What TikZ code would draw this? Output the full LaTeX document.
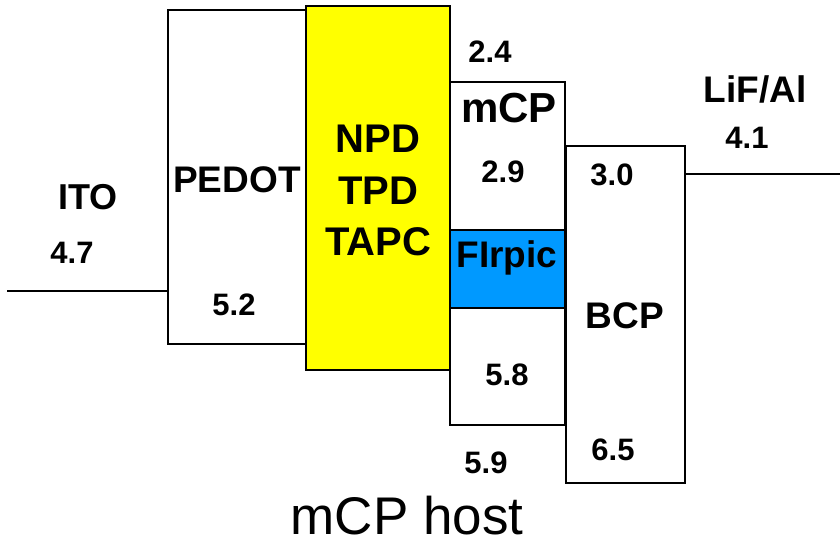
\documentclass[tikz,border=0pt]{standalone}
\usepackage{fontspec}
\setmainfont{Liberation Sans}
\definecolor{lay}{RGB}{255,255,0}
\definecolor{dopant}{RGB}{0,153,255}
\begin{document}
\begin{tikzpicture}[x=1pt,y=-1pt,
  layer/.style={draw=black,line width=1.6pt,anchor=north west,inner sep=0pt,outer sep=0pt},
  lbl/.style={anchor=base,inner sep=0pt,font=\bfseries\fontsize{36}{40}\selectfont},
  num/.style={anchor=base,inner sep=0pt,font=\bfseries\fontsize{31}{34}\selectfont},
  lvl/.style={line width=1.6pt}]
\useasboundingbox (0,0) rectangle (840,547);
% boxes
\node[layer,minimum width=138pt,minimum height=334pt] (pedot) at (168,10) {};
\node[layer,fill=lay,minimum width=144pt,minimum height=364pt] (htl) at (306,6) {};
\node[layer,minimum width=115pt,minimum height=343pt] (mcp) at (450,82) {};
\node[layer,fill=dopant,minimum width=115pt,minimum height=78pt] (firpic) at (450,230) {};
\node[layer,minimum width=119pt,minimum height=337pt] (bcp) at (566,146) {};
% electrode levels
\coordinate (itoend) at (7,291);
\coordinate (lifend) at (840,174);
\draw[lvl] (itoend) -- (itoend -| pedot.west);
\draw[lvl] (bcp.east |- lifend) -- (lifend);
% labels
\node[lbl] (tito) at (88,209) {ITO};
\node[num] (n47) at (72,263) {4.7};
\node[lbl,font=\bfseries\fontsize{37}{41}\selectfont] (tpedot) at (237,192) {PEDOT};
\node[num] (n52) at (234,315) {5.2};
\node[lbl,font=\bfseries\fontsize{40}{44}\selectfont] (tnpd) at (378,152) {NPD};
\node[lbl,font=\bfseries\fontsize{40}{44}\selectfont] (ttpd) at (378,204) {TPD};
\node[lbl,font=\bfseries\fontsize{40}{44}\selectfont] (ttapc) at (378,255) {TAPC};
\node[num] (n24) at (490,62) {2.4};
\node[lbl,font=\bfseries\fontsize{42}{46}\selectfont] (tmcp) at (509,122) {mCP};
\node[num] (n29) at (503,182) {2.9};
\node[num] (n30) at (612,185) {3.0};
\node[lbl,font=\bfseries\fontsize{37}{41}\selectfont] (tfirpic) at (507,267) {FIrpic};
\node[lbl,font=\bfseries\fontsize{37}{41}\selectfont] (tbcp) at (625,328) {BCP};
\node[lbl,font=\bfseries\fontsize{37}{41}\selectfont] (tlif) at (755,102) {LiF/Al};
\node[num] (n41) at (747,148) {4.1};
\node[num] (n58) at (507,385) {5.8};
\node[num] (n65) at (613,460) {6.5};
\node[num] (n59) at (486,473) {5.9};
\node[anchor=base,inner sep=0pt,font=\fontsize{53}{58}\selectfont] (host) at (407,534) {mCP host};
\end{tikzpicture}
\end{document}
